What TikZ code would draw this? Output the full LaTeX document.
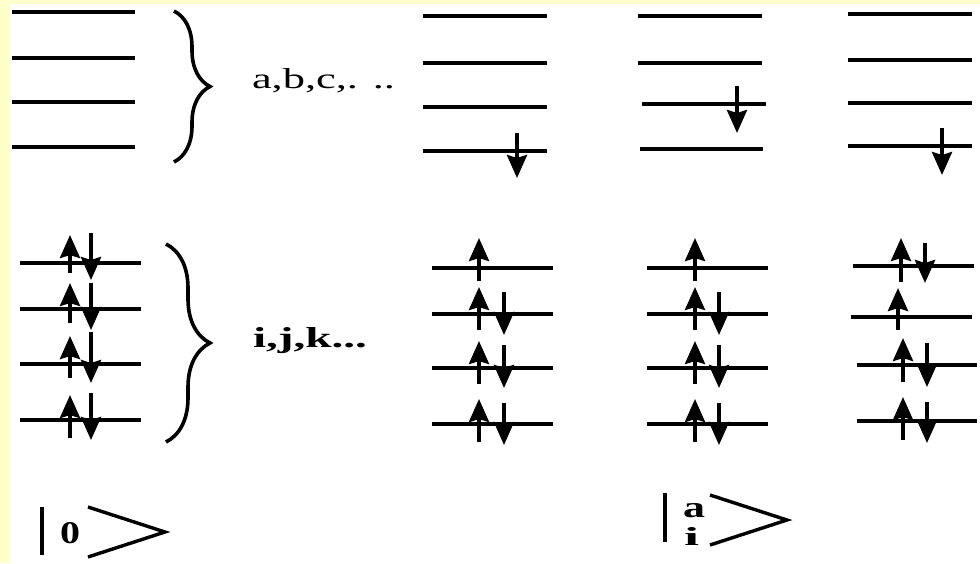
\documentclass[tikz,border=0pt]{standalone}
\usepackage{fontspec}
\setmainfont{Liberation Serif}
\usepackage{graphicx}
\usetikzlibrary{arrows.meta,decorations.pathreplacing}
\definecolor{pagebg}{RGB}{255,255,204}
\tikzset{
  lvl/.style={line width=3.4pt},
  spinup/.style={line width=4pt,-{Stealth[width=20pt,length=23pt,inset=3pt]}},
  spindn/.style={line width=4pt,-{Stealth[width=20pt,length=23pt,inset=3pt]}},
  curly/.style={line width=3.6pt,decorate,decoration={brace,amplitude=#1}},
  lbl/.style={inner sep=0pt,outer sep=0pt,anchor=base west},
  ketbar/.style={line width=4pt},
  ketang/.style={line width=3.4pt,line join=miter}
}
\begin{document}
\begin{tikzpicture}[x=1pt,y=-1pt]
\useasboundingbox (0,0) rectangle (980,563);
\fill[white] (0,0) rectangle (980,563);
\fill[pagebg] (0,0) rectangle (10,563);
\fill[pagebg] (0,0) rectangle (980,3.5);

% ---- left column, virtual levels
\foreach \y in {12,58,102,147} \draw[lvl] (12,\y) -- (135,\y);
\draw[curly=36pt] (174,11) -- (174,162);
\node[lbl] (abc) at (252,88) {\resizebox{143pt}{20pt}{a,b,c,. ..}};

% ---- left column, occupied levels
\foreach \y in {263,309,364,420} \draw[lvl] (20,\y) -- (141,\y);
\foreach \a/\b in {273/235,323/283,378/336,438/395} \draw[spinup] (70,\a) -- (70,\b);
\foreach \a/\b in {233/280,283/330,332/383,393/440} \draw[spindn] (91,\a) -- (91,\b);
\draw[curly=44pt] (166,244) -- (166,442);
\node[lbl] (ijk) at (253,347) {\resizebox{114pt}{20pt}{\bfseries i,j,k...}};

% ---- column A
\foreach \y in {16,63,107,151} \draw[lvl] (423,\y) -- (547,\y);
\draw[spindn] (517,133) -- (517,178);
\foreach \y in {268,314,368,424} \draw[lvl] (432,\y) -- (553,\y);
\foreach \a/\b in {281/238,330/287,384/341,442/399} \draw[spinup] (479,\a) -- (479,\b);
\foreach \a/\b in {292/335,345/388,403/445} \draw[spindn] (504,\a) -- (504,\b);

% ---- column B
\draw[lvl] (638,16) -- (762,16);
\draw[lvl] (638,63) -- (762,63);
\draw[lvl] (642,104) -- (766,104);
\draw[lvl] (640,149) -- (763,149);
\draw[spindn] (737,86) -- (737,133);
\foreach \y in {268,314,368,424} \draw[lvl] (647,\y) -- (768,\y);
\foreach \a/\b in {281/238,330/287,384/341,442/399} \draw[spinup] (695,\a) -- (695,\b);
\foreach \a/\b in {292/335,345/388,403/445} \draw[spindn] (719,\a) -- (719,\b);

% ---- column C
\foreach \y in {14,60,103,146} \draw[lvl] (848,\y) -- (972,\y);
\draw[spindn] (942,128) -- (942,175);
\draw[lvl] (853,266) -- (974,266);
\draw[lvl] (851,317) -- (972,317);
\draw[lvl] (857,365) -- (977,365);
\draw[lvl] (857,421) -- (977,421);
\draw[spinup] (901,282) -- (901,238);
\draw[spinup] (898,330) -- (898,288);
\draw[spinup] (903,382) -- (903,338);
\draw[spinup] (903,440) -- (903,397);
\draw[spindn] (925,243) -- (925,283);
\draw[spindn] (927,343) -- (927,387);
\draw[spindn] (927,402) -- (927,443);

% ---- kets
\draw[ketbar] (42,507) -- (42,555);
\node[lbl] (zero) at (60,543) {\resizebox{20pt}{21pt}{\bfseries 0}};
\draw[ketang] (88,507) -- (165,532) -- (88,557);

\draw[ketbar] (665,493) -- (665,542);
\node[lbl] (ka) at (683,517) {\resizebox{22pt}{14pt}{\bfseries a}};
\node[lbl] (ki) at (684,545) {\resizebox{15pt}{18pt}{\bfseries i}};
\draw[ketang] (710,495) -- (787,520) -- (710,545);
\end{tikzpicture}
\end{document}
